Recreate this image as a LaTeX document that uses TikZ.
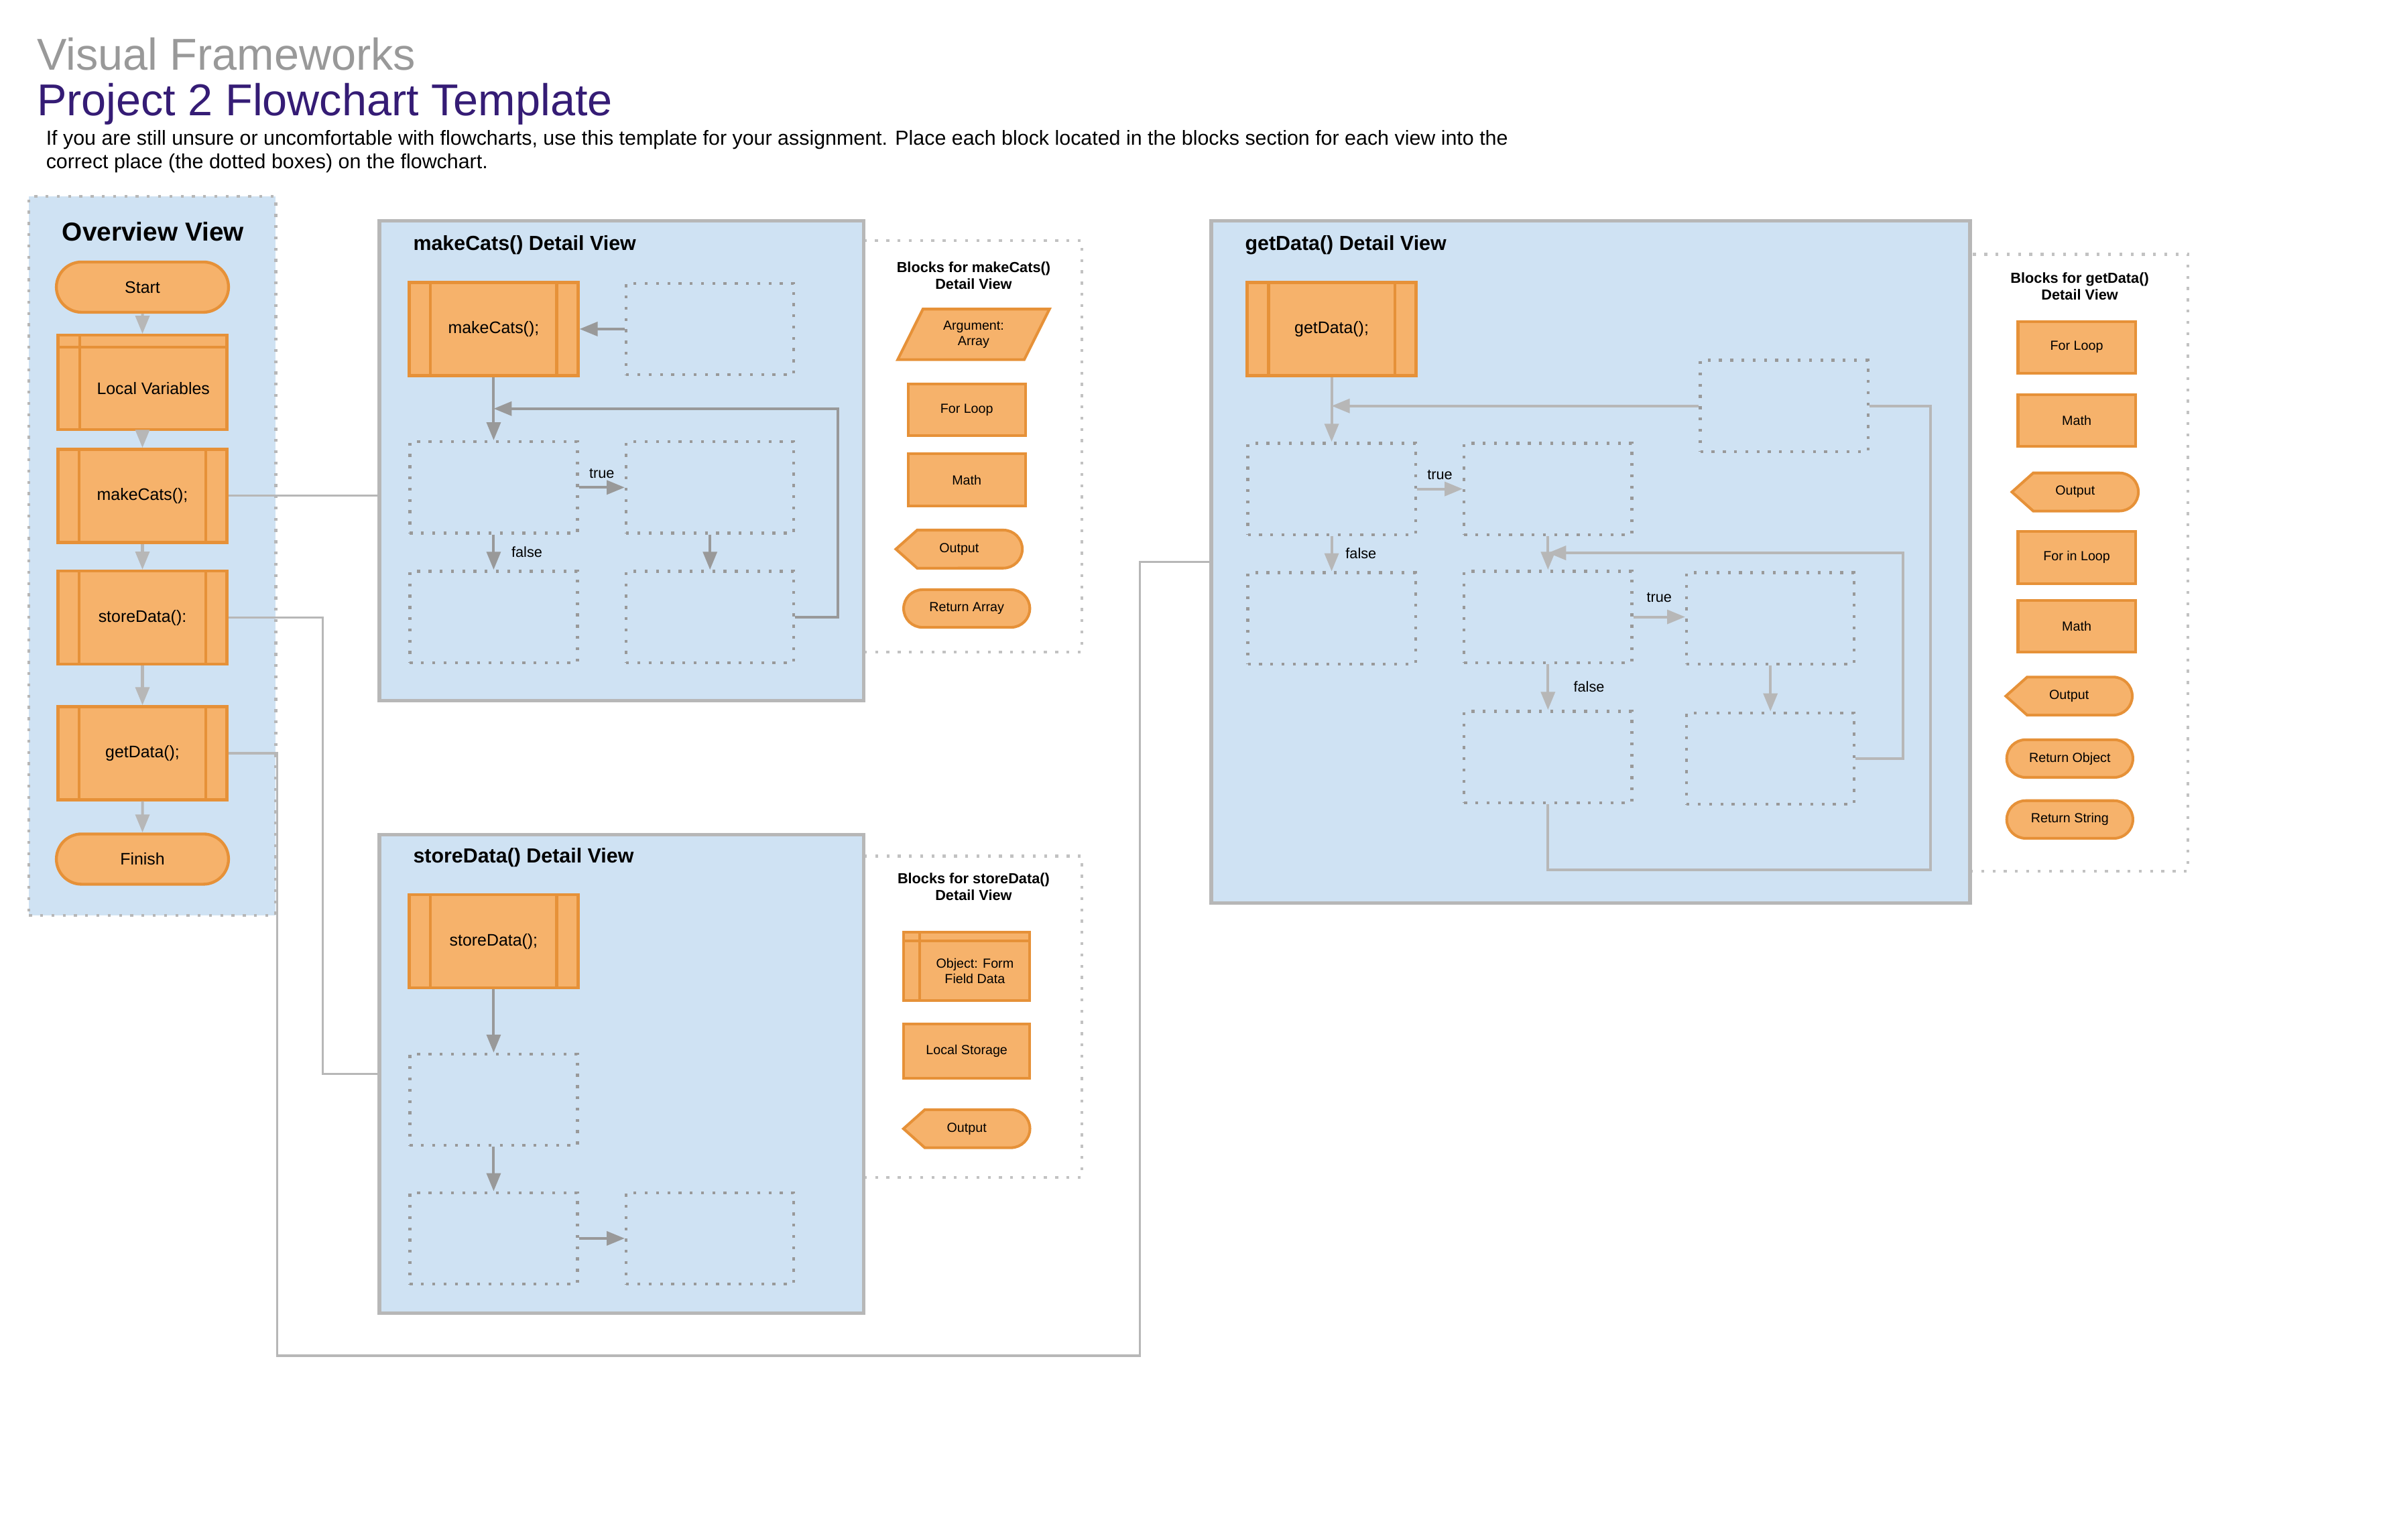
\documentclass[tikz,border=0pt]{standalone}
\usepackage{fontspec}
\setmainfont{Liberation Sans}
\usepackage{xcolor}
\usepackage{tikz}
\usetikzlibrary{positioning, arrows.meta, fit, calc, shapes.misc, shapes.geometric}

\definecolor{paneblue}{HTML}{CFE2F3}
\definecolor{blockfill}{HTML}{F6B26B}
\definecolor{blockedge}{HTML}{E69138}
\definecolor{edgegray}{HTML}{B7B7B7}
\definecolor{slotgray}{HTML}{999999}
\definecolor{titlegray}{HTML}{999999}
\definecolor{titlepurple}{HTML}{351C75}

\begin{document}
\begin{tikzpicture}[
  x=0.785pt, y=-0.785pt,
  headtitle/.style = {
    anchor=base west, inner sep=0pt,
    font=\fontsize{23}{27}\selectfont},
  introtext/.style = {
    anchor=north west, inner sep=0pt, align=left,
    font=\fontsize{10.5}{11.8}\selectfont},
  dotline/.style = {line width=1.5pt, dash pattern=on 1.5pt off 4.3pt},
  overviewbg/.style = {
    rectangle, draw=edgegray, fill=paneblue, dotline, inner sep=0pt},
  panel/.style = {
    rectangle, draw=edgegray, fill=paneblue,
    line width=1.8pt, inner sep=0pt},
  blocksframe/.style = {
    rectangle, draw=edgegray!85, fill=white, dotline, inner sep=0pt},
  paneltitle/.style = {
    anchor=west, inner sep=0pt,
    font=\bfseries\fontsize{10.5}{12}\selectfont},
  blockstitle/.style = {
    align=center, inner sep=0pt,
    font=\bfseries\fontsize{7.5}{8.6}\selectfont},
  slotbox/.style = {
    rectangle, draw=slotgray, dotline,
    minimum width=86.4pt, minimum height=47.1pt},
  procbox/.style = {
    rectangle, draw=blockedge, fill=blockfill, line width=1.5pt,
    minimum width=87pt, minimum height=48pt, inner sep=0pt,
    font=\fontsize{8.6}{10}\selectfont,
    path picture={
      \draw[blockedge, line width=1.5pt]
        ($(path picture bounding box.north west)!0.126!(path picture bounding box.north east)$) --
        ($(path picture bounding box.south west)!0.126!(path picture bounding box.south east)$)
        ($(path picture bounding box.north west)!0.874!(path picture bounding box.north east)$) --
        ($(path picture bounding box.south west)!0.874!(path picture bounding box.south east)$);
    }},
  storebox/.style = {
    rectangle, draw=blockedge, fill=blockfill, line width=1.5pt, inner sep=0pt,
    path picture={
      \draw[blockedge, line width=1.5pt]
        ($(path picture bounding box.north west)!0.128!(path picture bounding box.north east)$) --
        ($(path picture bounding box.south west)!0.128!(path picture bounding box.south east)$)
        ($(path picture bounding box.north west)!0.128!(path picture bounding box.south west)$) --
        ($(path picture bounding box.north east)!0.128!(path picture bounding box.south east)$);
    }},
  storetext/.style = {align=center, inner sep=0pt},
  termbox/.style = {
    rounded rectangle, draw=blockedge, fill=blockfill, line width=1.5pt,
    minimum width=88.7pt, minimum height=25.9pt, inner sep=0pt,
    font=\fontsize{8.6}{10}\selectfont},
  blockrect/.style = {
    rectangle, draw=blockedge, fill=blockfill, line width=1.4pt,
    minimum width=60.5pt, minimum height=26.7pt, inner sep=0pt,
    font=\fontsize{6.8}{8}\selectfont},
  blockpill/.style = {
    rounded rectangle, draw=blockedge, fill=blockfill, line width=1.4pt,
    minimum width=65pt, minimum height=19.4pt, inner sep=0pt,
    font=\fontsize{6.8}{8}\selectfont},
  argbox/.style = {
    trapezium, trapezium left angle=61, trapezium right angle=119,
    trapezium stretches=true,
    draw=blockedge, fill=blockfill, line width=1.4pt,
    minimum width=78.5pt, minimum height=26pt, inner sep=0pt, align=center,
    font=\fontsize{6.8}{8}\selectfont},
  outshape/.style = {draw=blockedge, fill=blockfill, line width=1.4pt},
  blocktext/.style = {inner sep=0pt, align=center, font=\fontsize{6.8}{8}\selectfont},
  pics/outputsym/.style = {code = {
    \path[outshape] (-41.5,0) -- (-27.5,-12.5) -- (29,-12.5)
      arc[start angle=90, end angle=-90, radius=9.8pt] -- (-27.5,12.5) -- cycle;
    \node[blocktext] (-txt) at (0,0) {#1};
  }},
  arr/.style  = {-{Triangle[length=9.3pt,width=7.2pt]}, line width=1.4pt, draw=slotgray},
  garr/.style = {-{Triangle[length=9.3pt,width=7.2pt]}, line width=1.4pt, draw=edgegray},
  link/.style = {line width=1.1pt, draw=edgegray},
  lbl/.style  = {inner sep=1.5pt, font=\fontsize{7.5}{9}\selectfont}
]
\useasboundingbox (0,0) rectangle (1568,1011);

%── Heading ──────────────────────────────────────────────────────
\node[headtitle, text=titlegray] (course) at (24,46) {Visual Frameworks};
\node[headtitle, text=titlepurple] (project) at (24,76) {Project 2 Flowchart Template};
\node[introtext] (intro) at (30,85.5)
  {If you are still unsure or uncomfortable with flowcharts, use this template for your assignment. Place each block located in the blocks section for each view into the\\
   correct place (the dotted boxes) on the flowchart.};

%── Block trays (behind the detail views) ────────────────────────
\node[blocksframe, fit={(567,158) (710,428)}] (MBlk) {};
\node[blocksframe, fit={(567,562) (710,773)}] (SBlk) {};
\node[blocksframe, fit={(1293,167) (1436,572)}] (GBlk) {};

%── Panels ───────────────────────────────────────────────────────
\node[overviewbg, fit={(19,129) (181,601)}] (OV) {};
\node[panel, fit={(249,145) (567,460)}] (MCV) {};
\node[panel, fit={(249,548) (567,862)}] (SDV) {};
\node[panel, fit={(795,145) (1293,593)}] (GDV) {};

%── Overview View ────────────────────────────────────────────────
\node[inner sep=0pt, font=\bfseries\fontsize{13.4}{16}\selectfont] (OVT) at (100.5,152) {Overview View};
\node[termbox] (OStart) at (93.5,188.5) {Start};
\node[storebox, minimum width=87pt, minimum height=48.5pt,
  label={[storetext, font=\fontsize{8.6}{10}\selectfont, xshift=5.6pt, yshift=-3.1pt]center:Local Variables}]
  (OLocal) at (93.5,251) {};
\node[procbox] (OMake) at (93.5,325.5) {makeCats();};
\node[procbox] (OStore) at (93.5,405.5) {storeData():};
\node[procbox] (OGet) at (93.5,494.5) {getData();};
\node[termbox] (OFinish) at (93.5,564) {Finish};

\foreach \a/\b in {OStart/OLocal, OLocal/OMake, OMake/OStore, OStore/OGet, OGet/OFinish}
  \draw[garr] (\a) -- (\b);

%── makeCats() Detail View ───────────────────────────────────────
\node[paneltitle] (MCVT) at (271,161) {makeCats() Detail View};
\node[procbox] (MProc) at (324,216) {makeCats();};
\node[slotbox] (MSlotA) at (466,216) {};
\node[slotbox] (MSlotB) at (324,320) {};
\node[slotbox] (MSlotC) at (466,320) {};
\node[slotbox] (MSlotD) at (324,405) {};
\node[slotbox] (MSlotE) at (466,405) {};

\draw[arr] (MSlotA) -- (MProc);
\draw[arr] (MProc) -- (MSlotB);
\draw[arr] (MSlotB) -- node[lbl, above=2.5pt] {true} (MSlotC);
\draw[arr] (MSlotB) -- node[lbl, right=7pt] {false} (MSlotD);
\draw[arr] (MSlotC) -- (MSlotE);
\draw[arr] (MSlotE.east) -- ++(28,0) |- ($(MProc.south)!0.5!(MSlotB.north)$);

%── Blocks for makeCats() ────────────────────────────────────────
\node[blockstitle] (MBlkT) at (639,181) {Blocks for makeCats()\\Detail View};
\node[argbox] (MArg) at (639,219.5) {Argument:\\Array};
\node[blockrect] (MFor) at (634.5,269) {For Loop};
\node[blockrect] (MMath) at (634.5,315) {Math};
\pic (MOut) at (629.5,360.5) {outputsym=Output};
\node[blockpill] (MRet) at (634.5,399.5) {Return Array};

%── storeData() Detail View ──────────────────────────────────────
\node[paneltitle] (SDVT) at (271,563) {storeData() Detail View};
\node[procbox] (SProc) at (324,618) {storeData();};
\node[slotbox] (SSlotA) at (324,722) {};
\node[slotbox] (SSlotB) at (324,813) {};
\node[slotbox] (SSlotC) at (466,813) {};

\draw[arr] (SProc) -- (SSlotA);
\draw[arr] (SSlotA) -- (SSlotB);
\draw[arr] (SSlotB) -- (SSlotC);

%── Blocks for storeData() ───────────────────────────────────────
\node[blockstitle] (SBlkT) at (639,582) {Blocks for storeData()\\Detail View};
\node[storebox, minimum width=65pt, minimum height=35.3pt,
  label={[storetext, font=\fontsize{6.8}{8}\selectfont, xshift=4.2pt, yshift=-2.3pt]center:{Object: Form\\Field Data}}]
  (SObj) at (634.5,634.5) {};
\node[blockrect, minimum width=65pt, minimum height=28pt] (SLocal) at (634.5,690) {Local Storage};
\pic (SOut) at (634.5,741) {outputsym=Output};

%── getData() Detail View ────────────────────────────────────────
\node[paneltitle] (GDVT) at (817,161) {getData() Detail View};
\node[procbox] (GProc) at (874,216) {getData();};
\node[slotbox] (GSlotJ) at (1171,266.5) {};
\node[slotbox] (GSlotI) at (874,321) {};
\node[slotbox] (GSlotK) at (1016,321) {};
\node[slotbox] (GSlotL) at (874,406) {};
\node[slotbox] (GSlotM) at (1016,405) {};
\node[slotbox] (GSlotN) at (1162,406) {};
\node[slotbox] (GSlotO) at (1016,497) {};
\node[slotbox] (GSlotP) at (1162,498) {};

\draw[garr] (GProc) -- (GSlotI);
\draw[garr] (GSlotJ.west) -- (GSlotJ.west -| GProc.south);
\draw[garr] (GSlotI) -- node[lbl, above=2.5pt] {true} (GSlotK);
\draw[garr] (GSlotI) -- node[lbl, right=5pt] {false} (GSlotL);
\draw[garr] (GSlotK) -- (GSlotM);
\draw[garr] (GSlotM.east) -- node[lbl, above=5.5pt] {true} (GSlotN.west |- GSlotM.east);
\draw[garr] (GSlotM) -- node[lbl, right=11pt] {false} (GSlotO);
\draw[garr] (GSlotN) -- (GSlotP);
\draw[garr] (GSlotP.east) -- ++(31,0) |- ($(GSlotK.south)!0.5!(GSlotM.north)$);
\coordinate (gloop) at (1267,571);
\draw[link, line width=1.4pt] (GSlotO.south) |- (gloop) |- (GSlotJ.east);

%── Blocks for getData() ─────────────────────────────────────────
\node[blockstitle] (GBlkT) at (1365,188) {Blocks for getData()\\Detail View};
\node[blockrect] (GFor) at (1363,228) {For Loop};
\node[blockrect] (GMathA) at (1363,276) {Math};
\pic (GOutA) at (1362,323) {outputsym=Output};
\node[blockrect] (GForIn) at (1363,366) {For in Loop};
\node[blockrect] (GMathB) at (1363,411) {Math};
\pic (GOutB) at (1358,457) {outputsym=Output};
\node[blockpill] (GRetObj) at (1358.5,498) {Return Object};
\node[blockpill] (GRetStr) at (1358.5,538) {Return String};

%── Overview to detail connectors ────────────────────────────────
\draw[link] (OMake.east) -- (OMake.east -| MCV.west);
\draw[link] (OStore.east) -- ++(62,0) |- (SDV.west);
\coordinate (gdbend) at (748,890);
\draw[link] (OGet.east) -| (OV.east |- gdbend) -- (gdbend) |- (GDV.west);

\end{tikzpicture}
\end{document}
